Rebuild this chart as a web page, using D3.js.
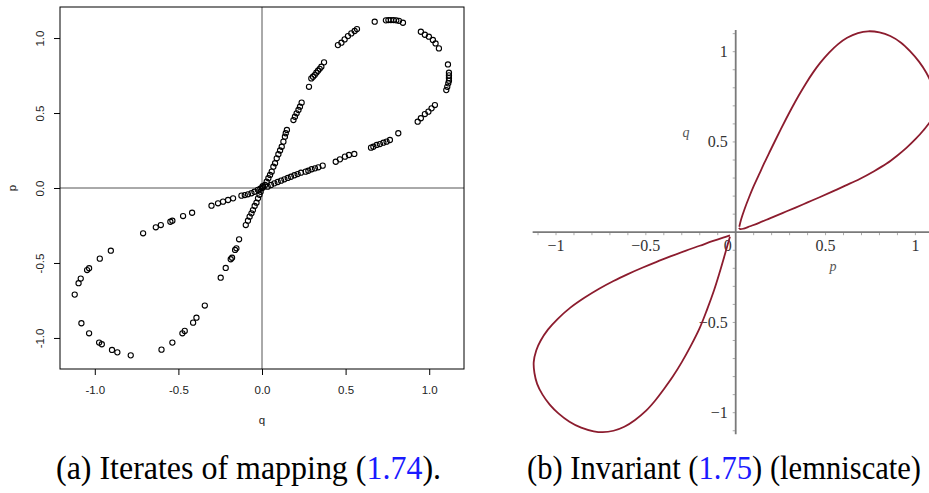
<!DOCTYPE html>
<html>
<head>
<meta charset="utf-8">
<script src="https://cdn.jsdelivr.net/npm/d3@7"></script>
<style>
	body { margin: 0; background: #fff; }
	svg { display: block; }
</style>
</head>
<body>
<script>
// panel (a): iterates of the mapping, [q, p]
const iterates = [
	[0.008, 0.005], [0.018, 0.02], [0.028, 0.042], [0.038, 0.065], [0.048, 0.087], [0.058, 0.109],
	[0.068, 0.142], [0.078, 0.165], [0.088, 0.198], [0.098, 0.225], [0.108, 0.25],
	[0.118, 0.275], [0.128, 0.309], [0.137, 0.342], [0.142, 0.365], [0.149, 0.387],
	[0.188, 0.453], [0.197, 0.475], [0.207, 0.498], [0.218, 0.52], [0.227, 0.542], [0.237, 0.569],
	[0.281, 0.675],
	[0.295, 0.731], [0.305, 0.742], [0.315, 0.753], [0.325, 0.769], [0.335, 0.782], [0.345, 0.795],
	[0.355, 0.809], [0.371, 0.838],
	[0.454, 0.953], [0.475, 0.969], [0.494, 0.991], [0.514, 1.013], [0.534, 1.031], [0.554, 1.047], [0.568, 1.06],
	[0.674, 1.109], [0.741, 1.118], [0.756, 1.12], [0.771, 1.12], [0.787, 1.12], [0.803, 1.118],
	[0.819, 1.115], [0.843, 1.102],
	[0.95, 1.042], [0.974, 1.022], [0.998, 1.009], [1.022, 0.987], [1.038, 0.964], [1.058, 0.931],
	[1.112, 0.824], [1.118, 0.769], [1.118, 0.751], [1.118, 0.733], [1.118, 0.715], [1.114, 0.698],
	[1.108, 0.675], [1.102, 0.653],
	[1.034, 0.553], [1.014, 0.531], [0.995, 0.509], [0.974, 0.493], [0.95, 0.465], [0.931, 0.442],
	[0.815, 0.365],
	[0.765, 0.32], [0.745, 0.309], [0.726, 0.302], [0.705, 0.293], [0.686, 0.287], [0.666, 0.275], [0.652, 0.269],
	[0.552, 0.227], [0.52, 0.22], [0.496, 0.209], [0.466, 0.191], [0.441, 0.175],
	[0.363, 0.149], [0.337, 0.138], [0.317, 0.131], [0.297, 0.125], [0.277, 0.115], [0.261, 0.109],
	[0.233, 0.102], [0.213, 0.093], [0.194, 0.085], [0.173, 0.075], [0.154, 0.067], [0.134, 0.058],
	[0.114, 0.049], [0.094, 0.04], [0.074, 0.031], [0.054, 0.02], [0.034, 0.009],
	[-0.01, -0.005], [-0.025, -0.012], [-0.045, -0.025], [-0.063, -0.035], [-0.084, -0.042],
	[-0.103, -0.047], [-0.123, -0.051], [-0.173, -0.069], [-0.203, -0.08], [-0.233, -0.091],
	[-0.263, -0.102], [-0.302, -0.118],
	[-0.418, -0.165], [-0.472, -0.187], [-0.536, -0.218], [-0.548, -0.225], [-0.605, -0.247], [-0.635, -0.262],
	[-0.711, -0.302], [-0.904, -0.418], [-0.97, -0.471], [-1.034, -0.535], [-1.046, -0.547],
	[-1.084, -0.604], [-1.097, -0.635], [-1.12, -0.711],
	[-1.08, -0.902], [-1.034, -0.969], [-0.974, -1.031], [-0.958, -1.042], [-0.897, -1.08],
	[-0.865, -1.096], [-0.785, -1.116],
	[-0.601, -1.078], [-0.536, -1.031], [-0.476, -0.969], [-0.462, -0.953], [-0.412, -0.898],
	[-0.392, -0.865], [-0.342, -0.784],
	[-0.247, -0.598], [-0.217, -0.533], [-0.187, -0.475], [-0.179, -0.465], [-0.161, -0.413],
	[-0.153, -0.402], [-0.137, -0.342],
	[-0.097, -0.247], [-0.084, -0.218], [-0.074, -0.191], [-0.063, -0.169], [-0.054, -0.147],
	[-0.044, -0.12], [-0.033, -0.098], [-0.024, -0.069], [-0.015, -0.045], [-0.008, -0.025],
	[0, 0], [0.004, 0.012]
];
const ticksA = [-1.0, -0.5, 0.0, 0.5, 1.0];

// panel (b): invariant curve, [p, q], one array per lobe
const lobeUpper = [
	[0.02, 0.03], [0.03, 0.07], [0.05, 0.13], [0.075, 0.195], [0.1, 0.255], [0.13, 0.32],
	[0.16, 0.385], [0.19, 0.447], [0.22, 0.508], [0.25, 0.568], [0.28, 0.627], [0.31, 0.684],
	[0.35, 0.756], [0.39, 0.823], [0.43, 0.884], [0.47, 0.938], [0.52, 0.995], [0.57, 1.042],
	[0.62, 1.077], [0.68, 1.103], [0.737, 1.113], [0.8, 1.107], [0.86, 1.087], [0.92, 1.05],
	[0.97, 1.003], [1.02, 0.945], [1.06, 0.885], [1.09, 0.825], [1.11, 0.78], [1.124, 0.742],
	[1.12, 0.7], [1.105, 0.655], [1.08, 0.61], [1.045, 0.565], [1.0, 0.515], [0.95, 0.467],
	[0.9, 0.425], [0.84, 0.38], [0.77, 0.338], [0.69, 0.295], [0.61, 0.258], [0.54, 0.226],
	[0.47, 0.195], [0.4, 0.165], [0.33, 0.135], [0.26, 0.106], [0.19, 0.077], [0.13, 0.052],
	[0.08, 0.033], [0.045, 0.02], [0.025, 0.017], [0.018, 0.024]
];
const lobeLower = [
	[-0.032, -0.018], [-0.07, -0.03], [-0.13, -0.05], [-0.2, -0.075], [-0.28, -0.103],
	[-0.36, -0.133], [-0.44, -0.164], [-0.52, -0.197], [-0.6, -0.232], [-0.68, -0.27],
	[-0.76, -0.313], [-0.84, -0.362], [-0.92, -0.418], [-0.99, -0.48], [-1.045, -0.54],
	[-1.085, -0.6], [-1.11, -0.655], [-1.124, -0.72], [-1.12, -0.78], [-1.105, -0.84],
	[-1.075, -0.9], [-1.035, -0.955], [-0.985, -1.005], [-0.925, -1.05], [-0.86, -1.083],
	[-0.79, -1.103], [-0.74, -1.108], [-0.68, -1.1], [-0.62, -1.078], [-0.56, -1.04],
	[-0.5, -0.99], [-0.45, -0.935], [-0.4, -0.87], [-0.35, -0.8], [-0.3, -0.72],
	[-0.25, -0.63], [-0.2, -0.53], [-0.16, -0.43], [-0.12, -0.32], [-0.09, -0.225],
	[-0.065, -0.14], [-0.045, -0.07], [-0.032, -0.025]
];
const ticksBx = [-1, -0.5, 0, 0.5, 1];
const ticksBy = [-1, -0.5, 0.5, 1];

const width = 929, height = 493;

const svg = d3.select("body").append("svg")
	.attr("width", width)
	.attr("height", height);

drawPanelA();
drawPanelB();
drawCaptions();

function drawPanelA() {
	let x = d3.scaleLinear().domain([-1.208, 1.208]).range([60, 464]);
	let y = d3.scaleLinear().domain([-1.207, 1.207]).range([369, 7]);
	let g = svg.append("g").attr("id", "panel-a");

	// zero lines
	g.append("line")
		.attr("x1", x(0)).attr("x2", x(0))
		.attr("y1", y.range()[0]).attr("y2", y.range()[1])
		.attr("stroke", "#555").attr("stroke-width", 1);
	g.append("line")
		.attr("x1", x.range()[0]).attr("x2", x.range()[1])
		.attr("y1", y(0)).attr("y2", y(0))
		.attr("stroke", "#555").attr("stroke-width", 1);

	g.selectAll("circle")
		.data(iterates)
		.enter()
		.append("circle")
		.attr("cx", (d) => x(d[0]))
		.attr("cy", (d) => y(d[1]))
		.attr("r", 2.6)
		.attr("fill", "none")
		.attr("stroke", "#000")
		.attr("stroke-width", 1.1);

	g.append("rect")
		.attr("x", 60).attr("y", 7)
		.attr("width", 404).attr("height", 362)
		.attr("fill", "none")
		.attr("stroke", "#000")
		.attr("stroke-width", 1);

	let fmt = d3.format(".1f");
	let xAxis = d3.axisBottom(x).tickValues(ticksA).tickSize(6).tickPadding(11)
		.tickFormat((d) => fmt(d).replace("−", "-"));
	let yAxis = d3.axisLeft(y).tickValues(ticksA).tickSize(6)
		.tickFormat((d) => fmt(d).replace("−", "-"));

	let gx = g.append("g")
		.attr("transform", "translate(0,369)")
		.call(xAxis);
	let gy = g.append("g")
		.attr("transform", "translate(60,0)")
		.call(yAxis);

	[gx, gy].forEach((ax) => {
		ax.select(".domain").remove();
		ax.selectAll("line").attr("stroke", "#000");
		ax.selectAll("text")
			.attr("fill", "#222")
			.style("font-family", "'Liberation Sans', Arial, sans-serif")
			.style("font-size", "11.5px");
	});

	gy.selectAll("text")
		.attr("x", null)
		.attr("dy", null)
		.attr("text-anchor", "middle")
		.attr("transform", "translate(-16,0) rotate(-90)");

	g.append("text")
		.attr("x", x(0)).attr("y", 424)
		.attr("text-anchor", "middle")
		.attr("fill", "#222")
		.style("font-family", "'Liberation Sans', Arial, sans-serif")
		.style("font-size", "11.5px")
		.text("q");
	g.append("text")
		.attr("transform", "translate(16," + y(0) + ") rotate(-90)")
		.attr("text-anchor", "middle")
		.attr("fill", "#222")
		.style("font-family", "'Liberation Sans', Arial, sans-serif")
		.style("font-size", "11.5px")
		.text("p");
}

function drawPanelB() {
	let x = d3.scaleLinear().domain([-1, 1]).range([556, 915.4]);
	let y = d3.scaleLinear().domain([-1, 1]).range([412.7, 51.7]);
	let g = svg.append("g").attr("id", "panel-b");
	let axisColor = "#7a7a7a";

	// minor ticks every 0.1
	let minor = d3.range(-11, 12).map((i) => i / 10).filter((v) => v !== 0);
	g.selectAll(".mx")
		.data(minor)
		.enter()
		.append("line")
		.attr("x1", (d) => x(d)).attr("x2", (d) => x(d))
		.attr("y1", y(0)).attr("y2", y(0) + 3)
		.attr("stroke", "#aaa");
	g.selectAll(".my")
		.data(minor.filter((v) => Math.abs(v) < 1.11))
		.enter()
		.append("line")
		.attr("x1", x(0)).attr("x2", x(0) - 3)
		.attr("y1", (d) => y(d)).attr("y2", (d) => y(d))
		.attr("stroke", "#aaa");

	g.append("line")
		.attr("x1", x(-1.13)).attr("x2", width)
		.attr("y1", y(0)).attr("y2", y(0))
		.attr("stroke", axisColor).attr("stroke-width", 1.8);
	g.append("line")
		.attr("x1", x(0)).attr("x2", x(0))
		.attr("y1", y(1.12)).attr("y2", y(-1.12))
		.attr("stroke", axisColor).attr("stroke-width", 1.8);

	let serif = "'Liberation Serif', 'Times New Roman', serif";
	let lbl = (v) => (v < 0 ? "\u2212" : "") + Math.abs(v);

	g.selectAll(".tx")
		.data(ticksBx)
		.enter()
		.append("text")
		.attr("x", (d) => (d === 0 ? x(0) - 8 : x(d)))
		.attr("y", y(0) + 19)
		.attr("text-anchor", "middle")
		.attr("fill", "#333")
		.style("font-family", serif)
		.style("font-size", "16px")
		.text(lbl);
	g.selectAll(".ty")
		.data(ticksBy)
		.enter()
		.append("text")
		.attr("x", x(0) - 8)
		.attr("y", (d) => y(d) + 5.5)
		.attr("text-anchor", "end")
		.attr("fill", "#333")
		.style("font-family", serif)
		.style("font-size", "16px")
		.text(lbl);

	g.append("text")
		.attr("x", 833).attr("y", 271)
		.attr("text-anchor", "middle")
		.attr("fill", "#555")
		.style("font-family", serif)
		.style("font-style", "italic")
		.style("font-size", "14px")
		.text("p");
	g.append("text")
		.attr("x", 686).attr("y", 137)
		.attr("text-anchor", "middle")
		.attr("fill", "#555")
		.style("font-family", serif)
		.style("font-style", "italic")
		.style("font-size", "14px")
		.text("q");

	let line = d3.line()
		.x((d) => x(d[0]))
		.y((d) => y(d[1]))
		.curve(d3.curveCatmullRom);

	g.selectAll(".lobe")
		.data([lobeUpper, lobeLower])
		.enter()
		.append("path")
		.attr("d", line)
		.attr("fill", "none")
		.attr("stroke", "#8c1c2e")
		.attr("stroke-width", 1.8);
}

function drawCaptions() {
	// narrow Times look: squeeze the glyphs horizontally
	let captions = [
		{ x: 56, sx: 0.94, parts: ["(a) Iterates of mapping (", "1.74", ")."] },
		{ x: 527, sx: 0.9, parts: ["(b) Invariant (", "1.75", ") (lemniscate)"] }
	];
	captions.forEach((c) => {
		let t = svg.append("text")
			.attr("transform", "translate(" + c.x + ",479) scale(" + c.sx + ",1)")
			.attr("fill", "#000")
			.style("font-family", "'Liberation Serif', 'Times New Roman', serif")
			.style("font-size", "34px");
		c.parts.forEach((s, i) => {
			t.append("tspan")
				.attr("fill", i === 1 ? "#1a1aff" : "#000")
				.text(s);
		});
	});
}
</script>
</body>
</html>
